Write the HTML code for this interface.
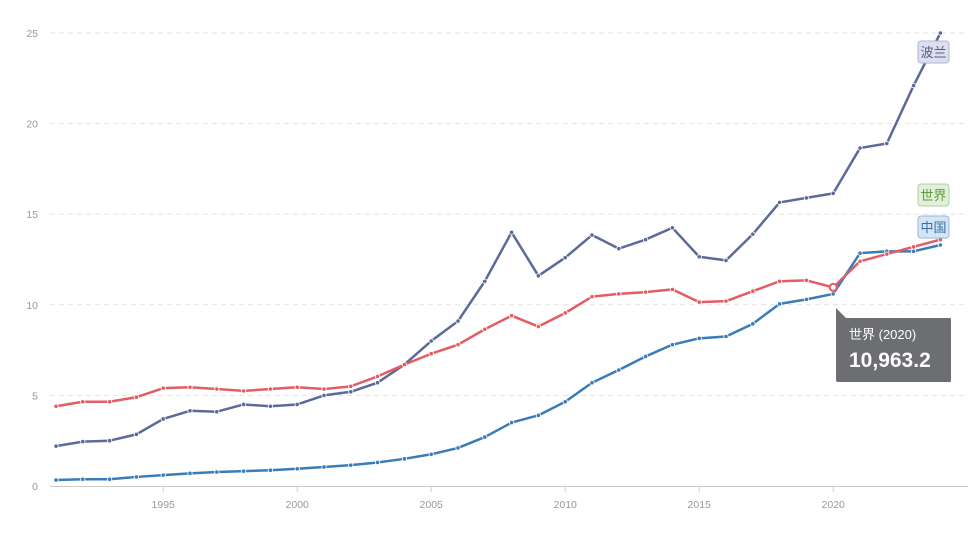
<!DOCTYPE html>
<html><head><meta charset="utf-8"><style>
body{margin:0;background:#fff;font-family:"Liberation Sans","Noto Sans CJK SC",sans-serif}
svg text{font-family:"Liberation Sans","Noto Sans CJK SC",sans-serif}
</style></head><body>
<svg id="chart" width="975" height="539" xmlns="http://www.w3.org/2000/svg"></svg>
<script>
const years=[1991,1992,1993,1994,1995,1996,1997,1998,1999,2000,2001,2002,2003,2004,2005,2006,2007,2008,2009,2010,2011,2012,2013,2014,2015,2016,2017,2018,2019,2020,2021,2022,2023,2024];
const poland=[2.2,2.45,2.5,2.85,3.7,4.15,4.1,4.5,4.4,4.5,5.0,5.2,5.7,6.7,8.0,9.1,11.3,14.0,11.6,12.6,13.85,13.1,13.6,14.25,12.65,12.45,13.9,15.65,15.9,16.15,18.65,18.9,22.1,25.0];
const world=[4.4,4.65,4.65,4.9,5.4,5.45,5.35,5.25,5.35,5.45,5.35,5.5,6.05,6.7,7.3,7.8,8.65,9.4,8.8,9.55,10.45,10.6,10.7,10.85,10.15,10.2,10.75,11.3,11.35,10.96,12.4,12.8,13.2,13.6];
const china=[0.33,0.37,0.37,0.5,0.6,0.7,0.77,0.82,0.87,0.95,1.05,1.15,1.3,1.5,1.75,2.1,2.7,3.5,3.9,4.65,5.7,6.4,7.15,7.8,8.15,8.25,8.95,10.05,10.3,10.6,12.85,12.95,12.95,13.3];
const yTicks=[0,5,10,15,20,25];
const xTicks=[1995,2000,2005,2010,2015,2020];
const NS="http://www.w3.org/2000/svg";
const svg=document.getElementById('chart');
const x=v=>56+(v-1991)*26.8;
const y=v=>486-v*18.12;
function mk(t,a){const e=document.createElementNS(NS,t);for(const k in a)e.setAttribute(k,a[k]);svg.appendChild(e);return e;}
yTicks.forEach(t=>{
  if(t>0){const l=mk('line',{x1:50,x2:968,y1:y(t),y2:y(t),stroke:'#e2e2e2','stroke-dasharray':'5,4'});
  
  }
  const tx=mk('text',{x:38,y:y(t)+4,'font-size':10.5,fill:'#999','text-anchor':'end'});tx.textContent=t;
  
  
});
const ax=mk('line',{x1:50,x2:968,y1:486.5,y2:486.5,stroke:'#ccc'});


xTicks.forEach(t=>{
  mk('line',{x1:x(t),x2:x(t),y1:487,y2:492,stroke:'#ccc'});
  const tx=mk('text',{x:x(t),y:508,'font-size':10.5,fill:'#999','text-anchor':'middle'});tx.textContent=t;
  
  
});
function series(data,color,name){
  const p=mk('polyline',{points:data.map((v,i)=>x(years[i])+','+y(v)).join(' '),fill:'none',stroke:color,'stroke-width':2.5,'stroke-linejoin':'round'});
  
  
  data.forEach((v,i)=>{const c=mk('circle',{cx:x(years[i]),cy:y(v),r:2.2,fill:color,stroke:'#fff','stroke-width':0.8});
  
  });
}
series(china,'#3a7cb8','china');
series(poland,'#5b6a9a','poland');
series(world,'#e45c63','world');
const hc=mk('circle',{cx:x(2020),cy:y(10.96),r:3.5,fill:'#fff',stroke:'#e45c63','stroke-width':2});


function label(txt,cy,bg,bd,fg,name){
  const g=mk('rect',{x:918,y:cy-11,width:31,height:22,rx:3,fill:bg,stroke:bd});
  
  
  const t=mk('text',{x:933.5,y:cy+5,'font-size':13,fill:fg,'text-anchor':'middle'});t.textContent=txt;
}
label('波兰',52,'#dcdff0','#b0b6d4','#555e88','poland');
label('世界',195,'#e1efdb','#a8d39b','#5f9a3a','world');
label('中国',227,'#d5e5f4','#93badd','#2f6fb0','china');
const tip=mk('path',{d:'M836 318 L950 318 Q951 318 951 320 L951 381 Q951 382 949 382 L838 382 Q836 382 836 380 Z M836 318 L836 308 L846 318 Z',fill:'#6c6e72'});


const t1=mk('text',{x:849,y:339,'font-size':13,fill:'#fff'});t1.textContent='世界 (2020)';
const t2=mk('text',{x:849,y:367,'font-size':21,'font-weight':'bold',fill:'#fff'});t2.textContent='10,963.2';
</script>
</body></html>
